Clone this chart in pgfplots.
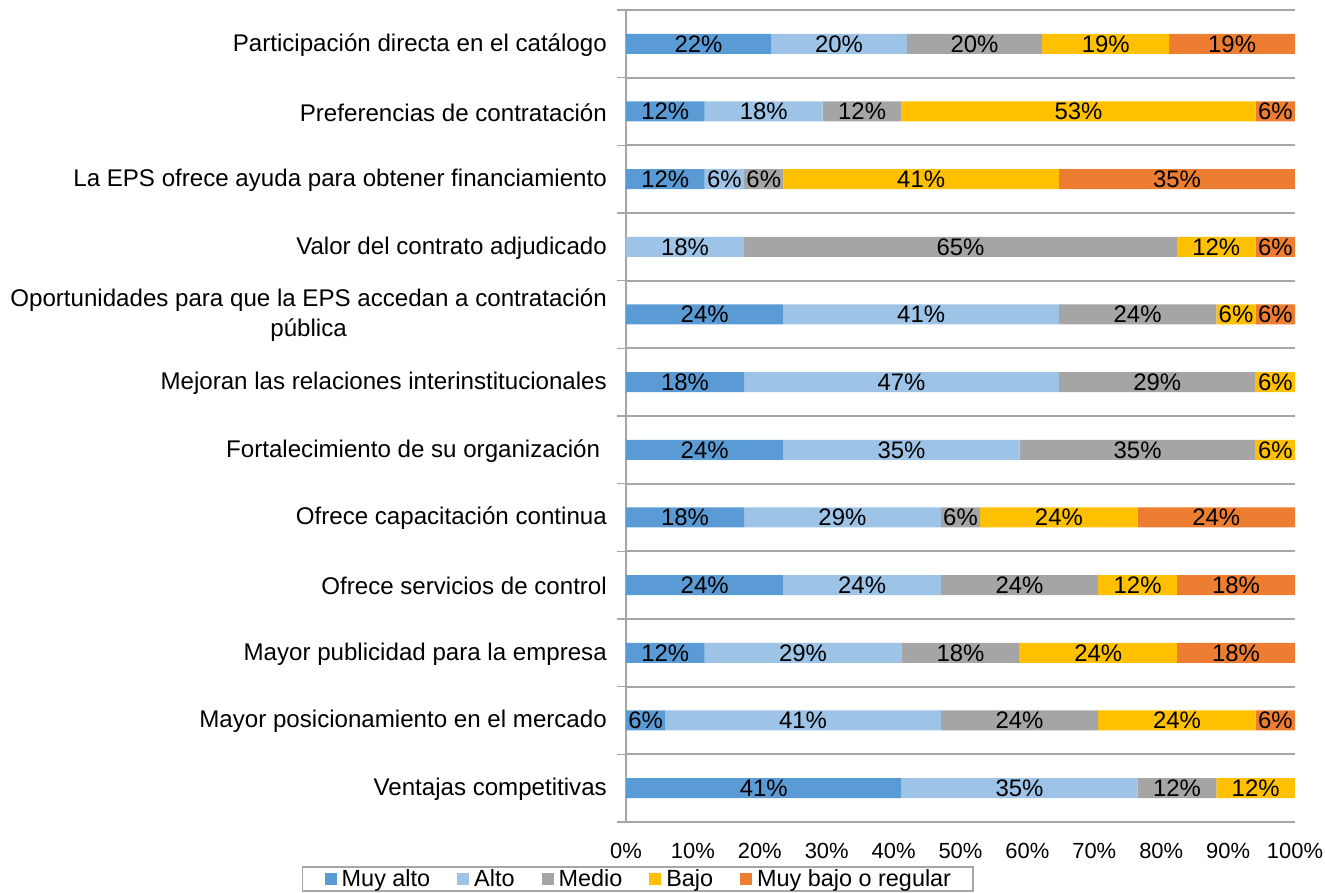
\documentclass[border=0pt]{standalone}
\usepackage{pgfplots}
\pgfplotsset{compat=1.18}
\usepackage{fontspec}
\setmainfont{Liberation Sans}
\definecolor{cA}{HTML}{5B9BD5}
\definecolor{cB}{HTML}{9DC3E6}
\definecolor{cC}{HTML}{A5A5A5}
\definecolor{cD}{HTML}{FFC000}
\definecolor{cE}{HTML}{ED7D31}
\definecolor{gridc}{HTML}{A6A6A6}
\begin{document}
\begin{tikzpicture}
\begin{axis}[
  name=main,
  scale only axis,
  width=669bp, height=812bp,
  xbar stacked,
  bar width=20bp,
  xmin=0, xmax=100,
  ymin=-0.5, ymax=11.5,
  font=\fontsize{24.2}{30}\selectfont,
  xtick={0,10,...,100},
  xticklabels={0\%,10\%,20\%,30\%,40\%,50\%,60\%,70\%,80\%,90\%,100\%},
  ytick={0,...,11},
  yticklabels={
    {Ventajas competitivas},
    {Mayor posicionamiento en el mercado},
    {Mayor publicidad para la empresa},
    {Ofrece servicios de control},
    {Ofrece capacitación continua},
    {Fortalecimiento de su organización },
    {Mejoran las relaciones interinstitucionales},
    {Oportunidades para que la EPS accedan a contratación\\pública},
    {Valor del contrato adjudicado},
    {La EPS ofrece ayuda para obtener financiamiento},
    {Preferencias de contratación},
    {Participación directa en el catálogo}},
  yticklabel style={align=center, inner xsep=0pt, xshift=-19bp, yshift=-1bp},
  xticklabel style={yshift=-18bp, font=\fontsize{22}{26}\selectfont},
  major tick length=0pt,
  minor ytick={-0.5,0.5,...,11.5},
  minor tick length=9bp,
  tick align=outside,
  yminorgrids,
  minor grid style={gridc, line width=2bp},
  minor tick style={gridc, line width=1.5bp},
  separate axis lines,
  x axis line style={draw=none},
  y axis line style={gridc, line width=1.5bp},
  axis y line*=left,
  legend style={at={(axis description cs:-0.4843,-0.0542)}, anchor=north west,
    legend columns=5, draw=gridc, line width=1.5bp,
    inner xsep=22bp, inner ysep=1bp,
    nodes={inner xsep=0bp, inner ysep=2bp},
    font=\fontsize{23.5}{26}\selectfont,
    /tikz/every odd column/.append style={column sep=5bp},
    /tikz/every even column/.append style={column sep=27bp}},
  legend cell align=left,
  legend image code/.code={\fill[#1] (0bp,-6bp) rectangle (12bp,6bp);},
]
\addplot[fill=cA, draw=none] coordinates {(41.18,0) (5.88,1) (11.76,2) (23.53,3) (17.65,4) (23.53,5) (17.65,6) (23.53,7) (0,8) (11.76,9) (11.76,10) (21.7,11)};
\addplot[fill=cB, draw=none] coordinates {(35.29,0) (41.18,1) (29.41,2) (23.53,3) (29.41,4) (35.29,5) (47.06,6) (41.18,7) (17.65,8) (5.88,9) (17.65,10) (20.3,11)};
\addplot[fill=cC, draw=none] coordinates {(11.76,0) (23.53,1) (17.65,2) (23.53,3) (5.88,4) (35.29,5) (29.41,6) (23.53,7) (64.71,8) (5.88,9) (11.76,10) (20.2,11)};
\addplot[fill=cD, draw=none] coordinates {(11.76,0) (23.53,1) (23.53,2) (11.76,3) (23.53,4) (5.88,5) (5.88,6) (5.88,7) (11.76,8) (41.18,9) (52.94,10) (19.0,11)};
\addplot[fill=cE, draw=none] coordinates {(0,0) (5.88,1) (17.65,2) (17.65,3) (23.53,4) (0,5) (0,6) (5.88,7) (5.88,8) (35.29,9) (5.88,10) (18.8,11)};
\legend{Muy alto,Alto,Medio,Bajo,Muy bajo o regular}
\coordinate (ax0) at (axis description cs:0,0);
\end{axis}
\begin{axis}[
  scale only axis,
  width=669bp, height=812bp,
  xmin=0, xmax=100,
  ymin=-0.5, ymax=11.5,
  hide axis,
]
\addplot[only marks, mark=none, point meta=explicit symbolic,
  nodes near coords,
  every node near coord/.append style={anchor=center, inner sep=0pt, font=\fontsize{24}{26}\selectfont, text=black}]
coordinates {
(20.59,0)[41\%] (58.82,0)[35\%] (82.35,0)[12\%] (94.12,0)[12\%]
(2.94,1)[6\%] (26.47,1)[41\%] (58.82,1)[24\%] (82.35,1)[24\%] (97.06,1)[6\%]
(5.88,2)[12\%] (26.47,2)[29\%] (50.00,2)[18\%] (70.59,2)[24\%] (91.18,2)[18\%]
(11.76,3)[24\%] (35.29,3)[24\%] (58.82,3)[24\%] (76.47,3)[12\%] (91.18,3)[18\%]
(8.82,4)[18\%] (32.35,4)[29\%] (50.00,4)[6\%] (64.71,4)[24\%] (88.24,4)[24\%]
(11.76,5)[24\%] (41.18,5)[35\%] (76.47,5)[35\%] (97.06,5)[6\%]
(8.82,6)[18\%] (41.18,6)[47\%] (79.41,6)[29\%] (97.06,6)[6\%]
(11.76,7)[24\%] (44.12,7)[41\%] (76.47,7)[24\%] (91.18,7)[6\%] (97.06,7)[6\%]
(8.82,8)[18\%] (50.00,8)[65\%] (88.24,8)[12\%] (97.06,8)[6\%]
(5.88,9)[12\%] (14.71,9)[6\%] (20.59,9)[6\%] (44.12,9)[41\%] (82.35,9)[35\%]
(5.88,10)[12\%] (20.59,10)[18\%] (35.29,10)[12\%] (67.65,10)[53\%] (97.06,10)[6\%]
(10.85,11)[22\%] (31.85,11)[20\%] (52.1,11)[20\%] (71.7,11)[19\%] (90.6,11)[19\%]
};
\end{axis}
\pgfresetboundingbox
\path ([xshift=-626bp,yshift=-71bp]ax0) rectangle ([xshift=699bp,yshift=822bp]ax0);
\end{tikzpicture}
\end{document}
